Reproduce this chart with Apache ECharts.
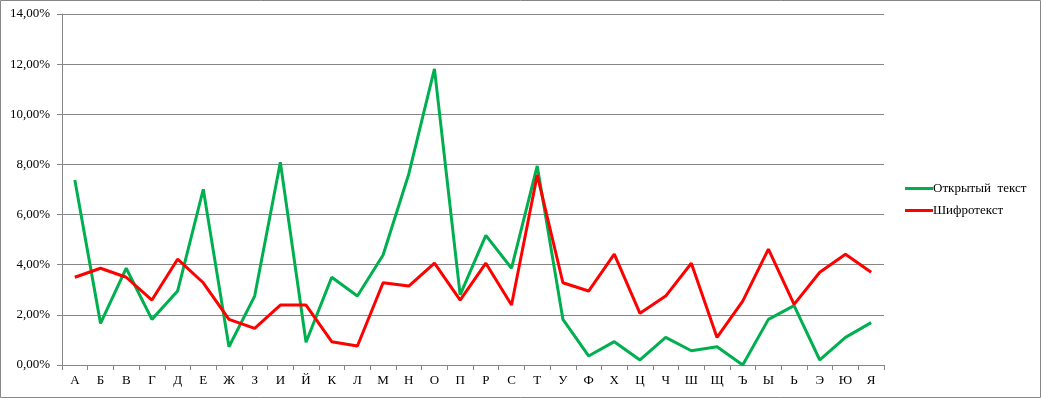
<!DOCTYPE html>
<html><head><meta charset="utf-8">
<script src="https://cdn.jsdelivr.net/npm/echarts@6/dist/echarts.min.js"></script>
<style>html,body{margin:0;padding:0;background:#fff}#c{width:1041px;height:398px}</style>
</head><body><div id="c"></div>
<script>
const categories = ['А','Б','В','Г','Д','Е','Ж','З','И','Й','К','Л','М','Н','О','П','Р','С','Т','У','Ф','Х','Ц','Ч','Ш','Щ','Ъ','Ы','Ь','Э','Ю','Я'];
const openText = [7.38,1.66,3.86,1.82,2.95,7.01,0.73,2.75,8.09,0.91,3.50,2.75,4.39,7.62,11.81,2.80,5.17,3.86,7.94,1.82,0.36,0.93,0.20,1.10,0.57,0.73,0.00,1.82,2.37,0.20,1.10,1.69];
const cipherText = [3.50,3.86,3.50,2.59,4.22,3.28,1.82,1.46,2.39,2.39,0.93,0.76,3.28,3.15,4.06,2.59,4.06,2.39,7.58,3.28,2.95,4.42,2.06,2.75,4.06,1.10,2.55,4.62,2.42,3.70,4.42,3.70];
const seriesNames = ['Открытый  текст','Шифротекст'];

const chart = echarts.init(document.getElementById('c'), null, {renderer:'canvas'});
const font = '"Liberation Serif", "Times New Roman", serif';
chart.setOption({
  animation:false,
  backgroundColor:'#fff',
  textStyle:{fontFamily:font},
  graphic:[{type:'rect',shape:{x:0.5,y:0.5,width:1040,height:397},style:{fill:null,stroke:'#868686',lineWidth:1},silent:true}],
  grid:{left:62,right:157,top:14,bottom:33},
  legend:{
    orient:'vertical',left:900,top:177,itemWidth:28,itemHeight:12,itemGap:9,
    icon:'path://M0,5 L28,5 L28,8 L0,8 Z',
    textStyle:{fontFamily:font,fontSize:13,color:'#000',padding:[0,0,0,-5]},
    data:seriesNames
  },
  xAxis:{
    type:'category',data:categories,boundaryGap:true,
    axisLine:{lineStyle:{color:'#868686',width:1}},
    axisTick:{show:true,length:5,inside:false,alignWithLabel:false,lineStyle:{color:'#868686'}},
    axisLabel:{color:'#000',fontFamily:font,fontSize:13,margin:9,interval:0}
  },
  yAxis:{
    type:'value',min:0,max:14,interval:2,
    axisLine:{show:true,lineStyle:{color:'#868686',width:1}},
    axisTick:{show:true,length:5,lineStyle:{color:'#868686'}},
    splitLine:{lineStyle:{color:'#868686',width:1}},
    axisLabel:{color:'#000',fontFamily:font,fontSize:13,margin:12,
      formatter:v=>v.toFixed(2).replace('.',',')+'%'}
  },
  series:[
    {name:seriesNames[0],type:'line',data:openText,symbol:'none',lineStyle:{color:'#00B050',width:3},itemStyle:{color:'#00B050'}},
    {name:seriesNames[1],type:'line',data:cipherText,symbol:'none',lineStyle:{color:'#FF0000',width:3},itemStyle:{color:'#FF0000'}}
  ]
});
</script></body></html>
